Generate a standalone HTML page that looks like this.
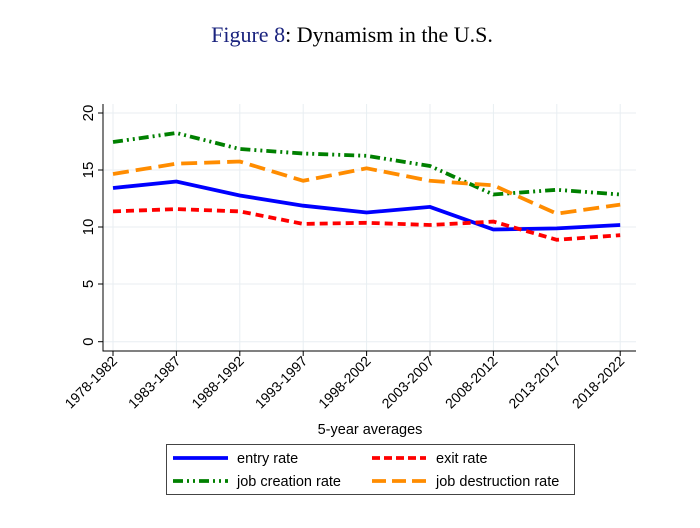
<!DOCTYPE html>
<html><head><style>body{margin:0;background:#fff}</style></head><body>
<svg width="700" height="523" xmlns="http://www.w3.org/2000/svg" font-family="Liberation Sans, sans-serif">
<rect width="700" height="523" fill="#fff"/>
<text x="352" y="42" text-anchor="middle" font-family="Liberation Serif, serif" font-size="22"><tspan fill="#1a237e">Figure 8</tspan>: Dynamism in the U.S.</text>
<g stroke="#e8eef2" stroke-width="1">
<line x1="103" x2="636" y1="113" y2="113"/><line x1="103" x2="636" y1="170" y2="170"/><line x1="103" x2="636" y1="227" y2="227"/><line x1="103" x2="636" y1="284" y2="284"/><line x1="103" x2="636" y1="341.7" y2="341.7"/>
<line x1="113" x2="113" y1="104" y2="351"/><line x1="176.4" x2="176.4" y1="104" y2="351"/><line x1="239.8" x2="239.8" y1="104" y2="351"/><line x1="303.2" x2="303.2" y1="104" y2="351"/><line x1="366.6" x2="366.6" y1="104" y2="351"/><line x1="430" x2="430" y1="104" y2="351"/><line x1="493.4" x2="493.4" y1="104" y2="351"/><line x1="556.8" x2="556.8" y1="104" y2="351"/><line x1="620.2" x2="620.2" y1="104" y2="351"/>
</g>
<g stroke="#000" stroke-width="1" fill="none">
<polyline points="103,104 103,351 636,351"/>
<line x1="98" x2="103" y1="113" y2="113"/><line x1="98" x2="103" y1="170" y2="170"/><line x1="98" x2="103" y1="227" y2="227"/><line x1="98" x2="103" y1="284" y2="284"/><line x1="98" x2="103" y1="341.7" y2="341.7"/>
<line x1="113" x2="113" y1="351" y2="356"/><line x1="176.4" x2="176.4" y1="351" y2="356"/><line x1="239.8" x2="239.8" y1="351" y2="356"/><line x1="303.2" x2="303.2" y1="351" y2="356"/><line x1="366.6" x2="366.6" y1="351" y2="356"/><line x1="430" x2="430" y1="351" y2="356"/><line x1="493.4" x2="493.4" y1="351" y2="356"/><line x1="556.8" x2="556.8" y1="351" y2="356"/><line x1="620.2" x2="620.2" y1="351" y2="356"/>
</g>
<g font-size="15" text-anchor="middle">
<text transform="translate(93,113) rotate(-90)">20</text><text transform="translate(93,170) rotate(-90)">15</text><text transform="translate(93,227) rotate(-90)">10</text><text transform="translate(93,284) rotate(-90)">5</text><text transform="translate(93,341.7) rotate(-90)">0</text>
</g>
<g font-size="14" text-anchor="end">
<text transform="translate(118,362) rotate(-45)">1978-1982</text><text transform="translate(181.4,362) rotate(-45)">1983-1987</text><text transform="translate(244.8,362) rotate(-45)">1988-1992</text><text transform="translate(308.2,362) rotate(-45)">1993-1997</text><text transform="translate(371.6,362) rotate(-45)">1998-2002</text><text transform="translate(435,362) rotate(-45)">2003-2007</text><text transform="translate(498.4,362) rotate(-45)">2008-2012</text><text transform="translate(561.8,362) rotate(-45)">2013-2017</text><text transform="translate(625.2,362) rotate(-45)">2018-2022</text>
</g>
<text x="370" y="434" text-anchor="middle" font-size="14.5">5-year averages</text>
<g fill="none" stroke-width="3.8">
<polyline stroke="#008000" stroke-dasharray="10,4,2,4,2,4" points="113,142 176.4,133 239.8,149 303.2,153.5 366.6,155.8 430,166 493.4,194.5 556.8,189.8 620.2,194.5"/>
<polyline stroke="#ff8c00" stroke-dasharray="16,7" points="113,174 176.4,163.7 239.8,161.5 303.2,180.8 366.6,168.3 430,180.8 493.4,185.3 556.8,213.7 620.2,204.6"/>
<polyline stroke="#0000ff" points="113,188 176.4,181.5 239.8,195.5 303.2,205.7 366.6,212.5 430,206.9 493.4,229.5 556.8,228.4 620.2,225"/>
<polyline stroke="#ff0000" stroke-dasharray="8,5" points="113,211.4 176.4,209.1 239.8,211.4 303.2,223.9 366.6,222.8 430,225 493.4,221.6 556.8,239.8 620.2,235.2"/>
</g>
<rect x="166.5" y="444.5" width="408" height="50" fill="none" stroke="#444" stroke-width="1"/>
<g stroke-width="3.8">
<line x1="173" x2="228" y1="458" y2="458" stroke="#0000ff"/>
<line x1="372" x2="426" y1="458" y2="458" stroke="#ff0000" stroke-dasharray="8,4"/>
<line x1="173" x2="228" y1="481" y2="481" stroke="#008000" stroke-dasharray="10,4,2,4,2,4"/>
<line x1="372" x2="426" y1="481" y2="481" stroke="#ff8c00" stroke-dasharray="14,6"/>
</g>
<g font-size="14.5">
<text x="237" y="463">entry rate</text><text x="436" y="463">exit rate</text>
<text x="237" y="486">job creation rate</text><text x="436" y="486">job destruction rate</text>
</g>
</svg>
</body></html>
